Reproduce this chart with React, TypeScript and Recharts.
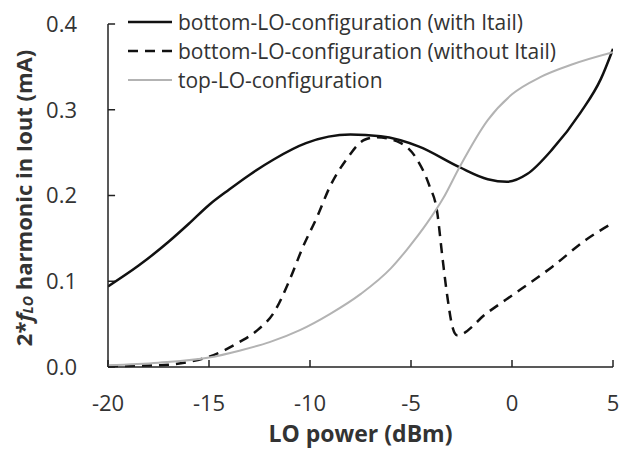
import { LineChart, Line, XAxis, YAxis, Legend, ReferenceLine } from "recharts";

const xTicks = [-20, -15, -10, -5, 0, 5];
const yTicks = [0, 0.1, 0.2, 0.3, 0.4];

const withTailX = [-20, -18.5, -17, -16, -15, -14, -13, -11.8, -10.2, -8.0, -6.5, -4.6, -2.6, -1.2, -0.25, 0.75, 2.0, 3.4, 4.4, 5];
const withTailY = [0.094, 0.118, 0.146, 0.167, 0.189, 0.207, 0.224, 0.242, 0.261, 0.271, 0.269, 0.257, 0.233, 0.219, 0.216, 0.225, 0.254, 0.297, 0.336, 0.371];

const withoutTailX = [-20, -17.5, -16, -15, -14.2, -13.5, -12.6, -11.8, -11, -10.35, -9.65, -9, -8.2, -7.3, -6.7, -5.5, -4.7, -4.1, -3.7, -3.45, -3.2, -2.95, -2.72, -1.24, 0.4, 2.0, 3.7, 5];
const withoutTailY = [0.001, 0.002, 0.006, 0.012, 0.02, 0.029, 0.043, 0.063, 0.102, 0.14, 0.175, 0.211, 0.242, 0.265, 0.268, 0.261, 0.242, 0.212, 0.18, 0.129, 0.082, 0.047, 0.037, 0.063, 0.09, 0.117, 0.149, 0.168];

const topLOX = [-20, -17.5, -15, -13.5, -12, -10.5, -9, -7.5, -6, -5.2, -4.2, -3.4, -2.6, -1.2, 0, 1.4, 3, 5];
const topLOY = [0.002, 0.005, 0.011, 0.019, 0.029, 0.043, 0.062, 0.085, 0.115, 0.137, 0.168, 0.197, 0.233, 0.288, 0.318, 0.338, 0.353, 0.367];

const seriesNames = [
  "bottom-LO-configuration (with Itail)",
  "bottom-LO-configuration (without Itail)",
  "top-LO-configuration",
];

const toPoints = (xs: number[], ys: number[]) => xs.map((x, i) => ({ x, y: ys[i] }));

const withTail = toPoints(withTailX, withTailY);
const withoutTail = toPoints(withoutTailX, withoutTailY);
const topLO = toPoints(topLOX, topLOY);

const font = "'Open Sans', sans-serif";
const ink = "#222";
// inward tick marks, about 7px long, expressed in axis units
const xTickLen = 0.0082;
const yTickLen = 0.35;

function LegendBox(props: any) {
  const { payload } = props;
  return (
    <div style={{ fontFamily: font, fontSize: 21, color: "#333", whiteSpace: "nowrap" }}>
      {(payload || []).map((entry: any) => (
        <div key={entry.value} style={{ display: "flex", alignItems: "center", height: 29 }}>
          <svg width={50} height={10}>
            <line
              x1={0}
              y1={5}
              x2={44}
              y2={5}
              stroke={entry.color}
              strokeWidth={entry.payload?.strokeWidth || 2}
              strokeDasharray={entry.payload?.strokeDasharray}
            />
          </svg>
          <span>{entry.value}</span>
        </div>
      ))}
    </div>
  );
}

function YTitle() {
  const cx = 23;
  const cy = 198;
  return (
    <text
      x={cx}
      y={cy}
      transform={`rotate(-90 ${cx} ${cy})`}
      textAnchor="middle"
      dominantBaseline="central"
      fontFamily={font}
      fontWeight="bold"
      fontSize={22}
      fill="#333"
    >
      2*<tspan fontStyle="italic">f</tspan>
      <tspan fontStyle="italic" fontSize={14} dy={4}>LO</tspan>
      <tspan dy={-4}> harmonic in Iout (mA)</tspan>
    </text>
  );
}

export default function App() {
  return (
    <div style={{ position: "absolute", left: 0, top: 0, background: "#fff" }}>
      <LineChart width={619} height={456} margin={{ top: 24, right: 6, left: 0, bottom: 0 }}>
        <XAxis
          type="number"
          dataKey="x"
          domain={[-20, 5]}
          ticks={xTicks}
          allowDataOverflow
          height={89}
          tickSize={0}
          tickMargin={28}
          tickLine={false}
          stroke={ink}
          strokeWidth={1.5}
          tick={{ fill: "#333", fontSize: 22, fontFamily: font }}
          label={{
            value: "LO power (dBm)",
            position: "insideBottom",
            offset: 14,
            fill: "#333",
            fontSize: 23,
            fontWeight: "bold",
            fontFamily: font,
          }}
        />
        <YAxis
          type="number"
          dataKey="y"
          domain={[0, 0.4]}
          ticks={yTicks}
          width={108}
          tickSize={0}
          tickMargin={31}
          tickLine={false}
          stroke={ink}
          strokeWidth={1.5}
          tickFormatter={(v: number) => v.toFixed(1)}
          tick={{ fill: "#333", fontSize: 22, fontFamily: font }}
          label={{ content: <YTitle /> }}
        />
        {xTicks.map((t) => (
          <ReferenceLine
            key={`xt${t}`}
            segment={[{ x: t, y: 0 }, { x: t, y: xTickLen }]}
            stroke={ink}
            strokeWidth={1.5}
          />
        ))}
        {yTicks.map((t) => (
          <ReferenceLine
            key={`yt${t}`}
            segment={[{ x: -20, y: t }, { x: -20 + yTickLen, y: t }]}
            stroke={ink}
            strokeWidth={1.5}
          />
        ))}
        <Legend
          layout="horizontal"
          verticalAlign="middle"
          align="center"
          content={<LegendBox />}
          wrapperStyle={{ left: 128, top: 7, width: "auto" }}
        />
        <Line
          data={withTail}
          dataKey="y"
          name={seriesNames[0]}
          type="monotone"
          stroke="#111"
          strokeWidth={2.5}
          dot={false}
          isAnimationActive={false}
        />
        <Line
          data={withoutTail}
          dataKey="y"
          name={seriesNames[1]}
          type="monotone"
          stroke="#111"
          strokeWidth={2.5}
          strokeDasharray="10 7"
          dot={false}
          isAnimationActive={false}
        />
        <Line
          data={topLO}
          dataKey="y"
          name={seriesNames[2]}
          type="monotone"
          stroke="#b3b3b3"
          strokeWidth={2}
          dot={false}
          isAnimationActive={false}
        />
      </LineChart>
    </div>
  );
}
